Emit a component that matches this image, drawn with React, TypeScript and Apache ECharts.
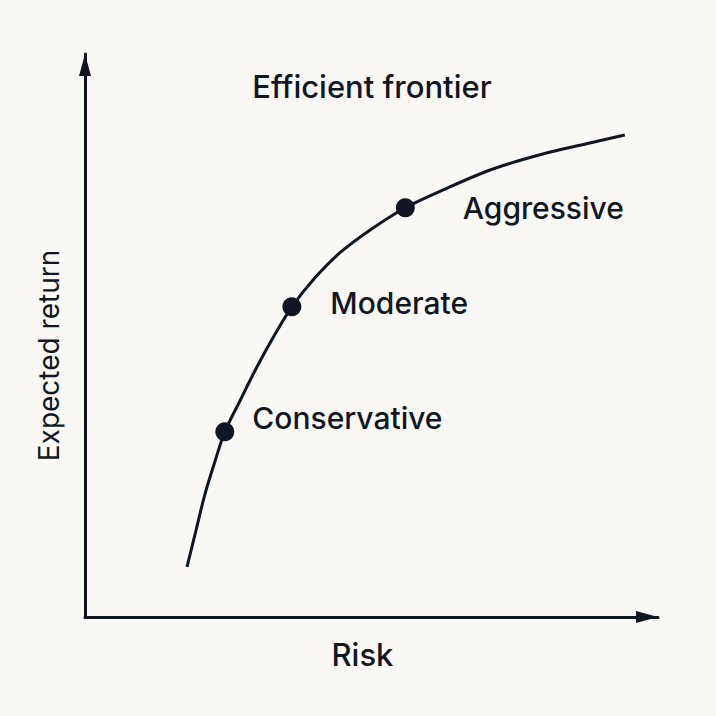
import React, { useEffect, useRef } from "react";
import * as echarts from "echarts";

const frontierRisk = [17.8, 19.4, 20.9, 22.7, 24.4, 27.1, 30.0, 33.2, 36.1, 40.1, 44.5, 49.7, 55.9, 62.8, 70.7, 79.4, 88.1, 94.2];
const frontierReturn = [8.9, 15.5, 21.7, 27.7, 32.9, 38.5, 44.4, 50.3, 55.1, 60.2, 64.7, 68.7, 72.7, 76.0, 79.4, 82.1, 84.2, 85.6];

const portfolioNames = ["Conservative", "Moderate", "Aggressive"];
const portfolioRisk = [24.4, 36.1, 55.9];
const portfolioReturn = [32.9, 55.1, 72.7];

const titleText = "Efficient frontier";
const xAxisName = "Risk";
const yAxisName = "Expected return";

// label layout (pixels), not data
const labelOffsets = [
  [8, -14],
  [19, -4],
  [38, 0],
];

const INK = "#111722";
const FONT = "Inter, 'Noto Sans', sans-serif";

export default function App() {
  const ref = useRef<HTMLDivElement>(null);
  useEffect(() => {
    if (!ref.current) return;
    const chart = echarts.init(ref.current, null, { renderer: "svg" });
    const axisLine = {
      show: true,
      symbol: ["none", "triangle"],
      symbolSize: [12, 22],
      symbolOffset: [0, -11],
      lineStyle: { color: INK, width: 3 },
    };
    const option = {
      animation: false,
      backgroundColor: "#f9f8f4",
      title: {
        text: titleText,
        left: 367,
        top: 66,
        textAlign: "center",
        textStyle: { fontFamily: FONT, fontSize: 31, fontWeight: 500, color: INK },
      },
      grid: { left: 85, right: 58, top: 54, bottom: 99, outerBoundsMode: "none" },
      xAxis: {
        type: "value",
        min: 0,
        max: 100,
        name: xAxisName,
        nameLocation: "middle",
        nameGap: 22,
        nameTextStyle: {
          fontFamily: FONT,
          fontSize: 31,
          fontWeight: 500,
          color: INK,
          padding: [0, 18, 0, 0],
        },
        axisLine,
        axisTick: { show: false },
        axisLabel: { show: false },
        splitLine: { show: false },
      },
      yAxis: {
        type: "value",
        min: 0,
        max: 100,
        name: yAxisName,
        nameLocation: "middle",
        nameGap: 22,
        nameTextStyle: {
          fontFamily: FONT,
          fontSize: 28,
          fontWeight: 400,
          color: INK,
          padding: [0, 40, 0, 0],
        },
        axisLine,
        axisTick: { show: false },
        axisLabel: { show: false },
        splitLine: { show: false },
      },
      series: [
        {
          type: "line",
          data: frontierRisk.map((x, i) => [x, frontierReturn[i]]),
          smooth: 0.3,
          showSymbol: false,
          lineStyle: { color: INK, width: 3 },
          z: 2,
        },
        {
          type: "scatter",
          data: portfolioNames.map((n, i) => ({
            name: n,
            value: [portfolioRisk[i], portfolioReturn[i]],
            label: { offset: labelOffsets[i] },
          })),
          symbolSize: 19,
          itemStyle: { color: INK, opacity: 1 },
          label: {
            show: true,
            position: "right",
            distance: 10,
            formatter: "{b}",
            fontFamily: FONT,
            fontSize: 30,
            fontWeight: 500,
            color: INK,
            opacity: 1,
          },
          z: 3,
        },
      ],
    };
    chart.setOption(option);
    return () => chart.dispose();
  }, []);
  return <div ref={ref} style={{ position: "fixed", left: 0, top: 0, width: 716, height: 716 }} />;
}
